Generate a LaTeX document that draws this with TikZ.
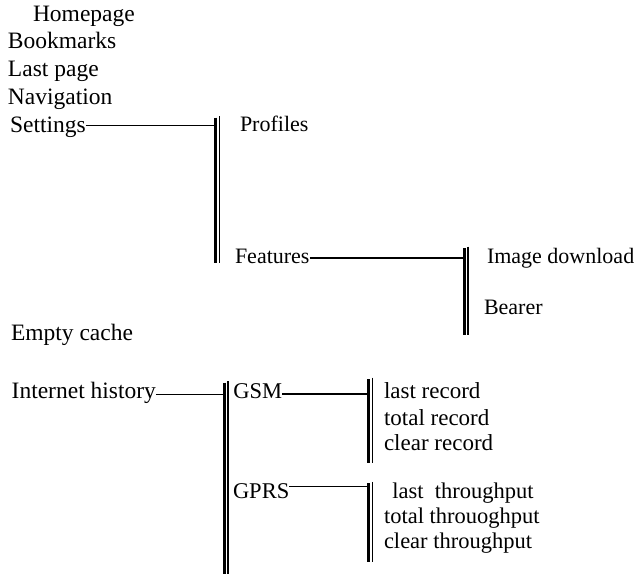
\documentclass[tikz,border=0pt]{standalone}
\usepackage{fontspec}
\setmainfont{Liberation Serif}
\begin{document}
\begin{tikzpicture}[x=1pt,y=-1pt,
  lbl/.style={anchor=base west,inner sep=0pt,outer sep=0pt},
  fa/.style={font=\fontsize{23.5}{28}\selectfont},
  fb/.style={font=\fontsize{22.5}{27}\selectfont},
  fc/.style={font=\fontsize{22}{26}\selectfont},
  fd/.style={font=\fontsize{23}{27}\selectfont},
  link/.style={line width=1.3pt},
  thickbar/.style={line width=3pt},
  thinbar/.style={line width=1.5pt}]
\useasboundingbox (0,0) rectangle (644,574);
% left column
\node[lbl,fa] (home) at (33,21.7) {Homepage};
\node[lbl,fa] (book) at (8,48.3) {Bookmarks};
\node[lbl,fa] (last) at (8,76) {Last page};
\node[lbl,fa] (nav) at (8,104) {Navigation};
\node[lbl,fa] (set) at (10,132.3) {Settings};
\node[lbl,fa] (cache) at (11,340.7) {Empty cache};
\node[lbl,fa] (hist) at (11.7,398.3) {Internet history};
% second level
\node[lbl,fc] (prof) at (240,131.7) {Profiles};
\node[lbl,fc] (feat) at (235,263.3) {Features};
\node[lbl,fc] (img) at (487,263.3) {Image download};
\node[lbl,fc] (bear) at (484,314.3) {Bearer};
\node[lbl,fb] (gsm) at (233.3,398.3) {GSM};
\node[lbl,fb] (gprs) at (233,498.3) {GPRS};
\node[lbl,fd] (lrec) at (384,398.3) {last record};
\node[lbl,fd] (trec) at (384,425) {total record};
\node[lbl,fd] (crec) at (384,450) {clear record};
\node[lbl,fb] (lthr) at (392.3,498.3) {last\ \ throughput};
\node[lbl,fb] (tthr) at (384,523.3) {total throuoghput};
\node[lbl,fb] (cthr) at (384,548.3) {clear throughput};
% bars (top/bottom coordinates; x = centre of the thick line)
\coordinate (b1t) at (215.5,117.5); \coordinate (b1b) at (215.5,263);
\coordinate (b2t) at (464,248);     \coordinate (b2b) at (464,335);
\coordinate (b3t) at (224.3,382.7); \coordinate (b3b) at (224.3,574);
\coordinate (b4t) at (368.7,379);   \coordinate (b4b) at (368.7,463.3);
\coordinate (b5t) at (368.7,483.3); \coordinate (b5b) at (368.7,561.7);
\foreach \b in {b1,b2,b3,b4,b5}{
  \draw[thickbar] (\b t) -- (\b b);
  \draw[thinbar] ([xshift=3.8pt,yshift=1.5pt]\b t) -- ([xshift=3.8pt]\b b);
}
% connectors
\draw[link] ([yshift=6.5pt]set.base east) -- ([yshift=6.5pt]set.base east -| b1t);
\draw[link] ([yshift=5.3pt]feat.base east) -- ([yshift=5.3pt]feat.base east -| b2t);
\draw[link] ([yshift=4pt]hist.base east) -- ([yshift=4pt]hist.base east -| b3t);
\draw[link] ([yshift=4.3pt]gsm.base east) -- ([yshift=4.3pt]gsm.base east -| b4t);
\draw[link] ([yshift=11.6pt]gprs.base east) -- ([yshift=11.6pt]gprs.base east -| b5t);
\end{tikzpicture}
\end{document}
